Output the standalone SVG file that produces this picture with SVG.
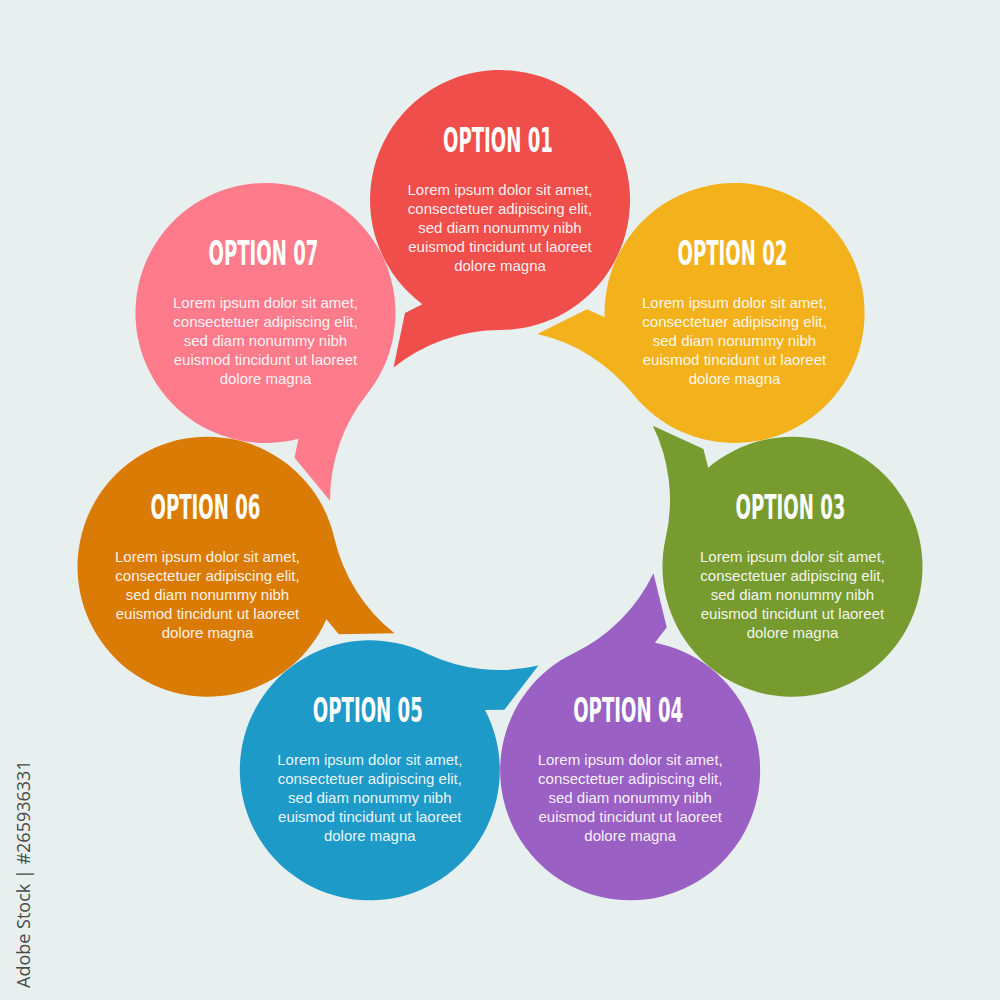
<svg xmlns="http://www.w3.org/2000/svg" xmlns:xlink="http://www.w3.org/1999/xlink" width="1000" height="1000" viewBox="0 0 1000 1000">
<style>
.title{font-family:"Liberation Sans Narrow","DejaVu Sans Condensed","Liberation Sans",sans-serif;font-weight:700;font-size:34px;fill:#ffffff;text-anchor:middle}
.body{font-family:"Liberation Sans",Arial,sans-serif;font-size:15px;fill:#ffffff;fill-opacity:0.93;text-anchor:middle}
.side{font-family:"Open Sans","Liberation Sans",sans-serif;font-size:18px;fill:#4a4a4a}
</style>
<defs>
<path id="bubble" d="M422.3 304.2 L405 313 L393.5 367.5 A170 170 0 0 1 500 330 A130 130 0 1 0 422.3 304.2 Z"/>
</defs>
<rect width="1000" height="1000" fill="#E7EFEF"/>
<g id="connectors"></g>
<g id="node1">
<use xlink:href="#bubble" href="#bubble" fill="#F04E4B"/>
<text class="title" x="498" y="152" textLength="110" lengthAdjust="spacingAndGlyphs">OPTION 01</text>
<text class="body" x="500" y="195">Lorem ipsum dolor sit amet,</text>
<text class="body" x="500" y="214">consectetuer adipiscing elit,</text>
<text class="body" x="500" y="233">sed diam nonummy nibh</text>
<text class="body" x="500" y="252">euismod tincidunt ut laoreet</text>
<text class="body" x="500" y="271">dolore magna</text>
</g>
<g id="node2">
<use xlink:href="#bubble" href="#bubble" fill="#F3B11C" transform="rotate(51.428571 500 500)"/>
<text class="title" x="732.5" y="265" textLength="110" lengthAdjust="spacingAndGlyphs">OPTION 02</text>
<text class="body" x="734.5" y="308">Lorem ipsum dolor sit amet,</text>
<text class="body" x="734.5" y="327">consectetuer adipiscing elit,</text>
<text class="body" x="734.5" y="346">sed diam nonummy nibh</text>
<text class="body" x="734.5" y="365">euismod tincidunt ut laoreet</text>
<text class="body" x="734.5" y="384">dolore magna</text>
</g>
<g id="node3">
<use xlink:href="#bubble" href="#bubble" fill="#789B2F" transform="rotate(102.857143 500 500)"/>
<text class="title" x="790.5" y="518.8" textLength="110" lengthAdjust="spacingAndGlyphs">OPTION 03</text>
<text class="body" x="792.5" y="561.8">Lorem ipsum dolor sit amet,</text>
<text class="body" x="792.5" y="580.8">consectetuer adipiscing elit,</text>
<text class="body" x="792.5" y="599.8">sed diam nonummy nibh</text>
<text class="body" x="792.5" y="618.8">euismod tincidunt ut laoreet</text>
<text class="body" x="792.5" y="637.8">dolore magna</text>
</g>
<g id="node4">
<use xlink:href="#bubble" href="#bubble" fill="#9A60C4" transform="rotate(154.285714 500 500)"/>
<text class="title" x="628.2" y="722.3" textLength="110" lengthAdjust="spacingAndGlyphs">OPTION 04</text>
<text class="body" x="630.2" y="765.3">Lorem ipsum dolor sit amet,</text>
<text class="body" x="630.2" y="784.3">consectetuer adipiscing elit,</text>
<text class="body" x="630.2" y="803.3">sed diam nonummy nibh</text>
<text class="body" x="630.2" y="822.3">euismod tincidunt ut laoreet</text>
<text class="body" x="630.2" y="841.3">dolore magna</text>
</g>
<g id="node5">
<use xlink:href="#bubble" href="#bubble" fill="#1E9AC8" transform="rotate(205.714286 500 500)"/>
<text class="title" x="367.8" y="722.3" textLength="110" lengthAdjust="spacingAndGlyphs">OPTION 05</text>
<text class="body" x="369.8" y="765.3">Lorem ipsum dolor sit amet,</text>
<text class="body" x="369.8" y="784.3">consectetuer adipiscing elit,</text>
<text class="body" x="369.8" y="803.3">sed diam nonummy nibh</text>
<text class="body" x="369.8" y="822.3">euismod tincidunt ut laoreet</text>
<text class="body" x="369.8" y="841.3">dolore magna</text>
</g>
<g id="node6">
<use xlink:href="#bubble" href="#bubble" fill="#DA7B05" transform="rotate(257.142857 500 500)"/>
<text class="title" x="205.5" y="518.8" textLength="110" lengthAdjust="spacingAndGlyphs">OPTION 06</text>
<text class="body" x="207.5" y="561.8">Lorem ipsum dolor sit amet,</text>
<text class="body" x="207.5" y="580.8">consectetuer adipiscing elit,</text>
<text class="body" x="207.5" y="599.8">sed diam nonummy nibh</text>
<text class="body" x="207.5" y="618.8">euismod tincidunt ut laoreet</text>
<text class="body" x="207.5" y="637.8">dolore magna</text>
</g>
<g id="node7">
<use xlink:href="#bubble" href="#bubble" fill="#FD7B8B" transform="rotate(308.571429 500 500)"/>
<text class="title" x="263.5" y="265" textLength="110" lengthAdjust="spacingAndGlyphs">OPTION 07</text>
<text class="body" x="265.5" y="308">Lorem ipsum dolor sit amet,</text>
<text class="body" x="265.5" y="327">consectetuer adipiscing elit,</text>
<text class="body" x="265.5" y="346">sed diam nonummy nibh</text>
<text class="body" x="265.5" y="365">euismod tincidunt ut laoreet</text>
<text class="body" x="265.5" y="384">dolore magna</text>
</g>
<text class="side" transform="translate(30 988) rotate(-90)">Adobe Stock | #265936331</text>
</svg>
